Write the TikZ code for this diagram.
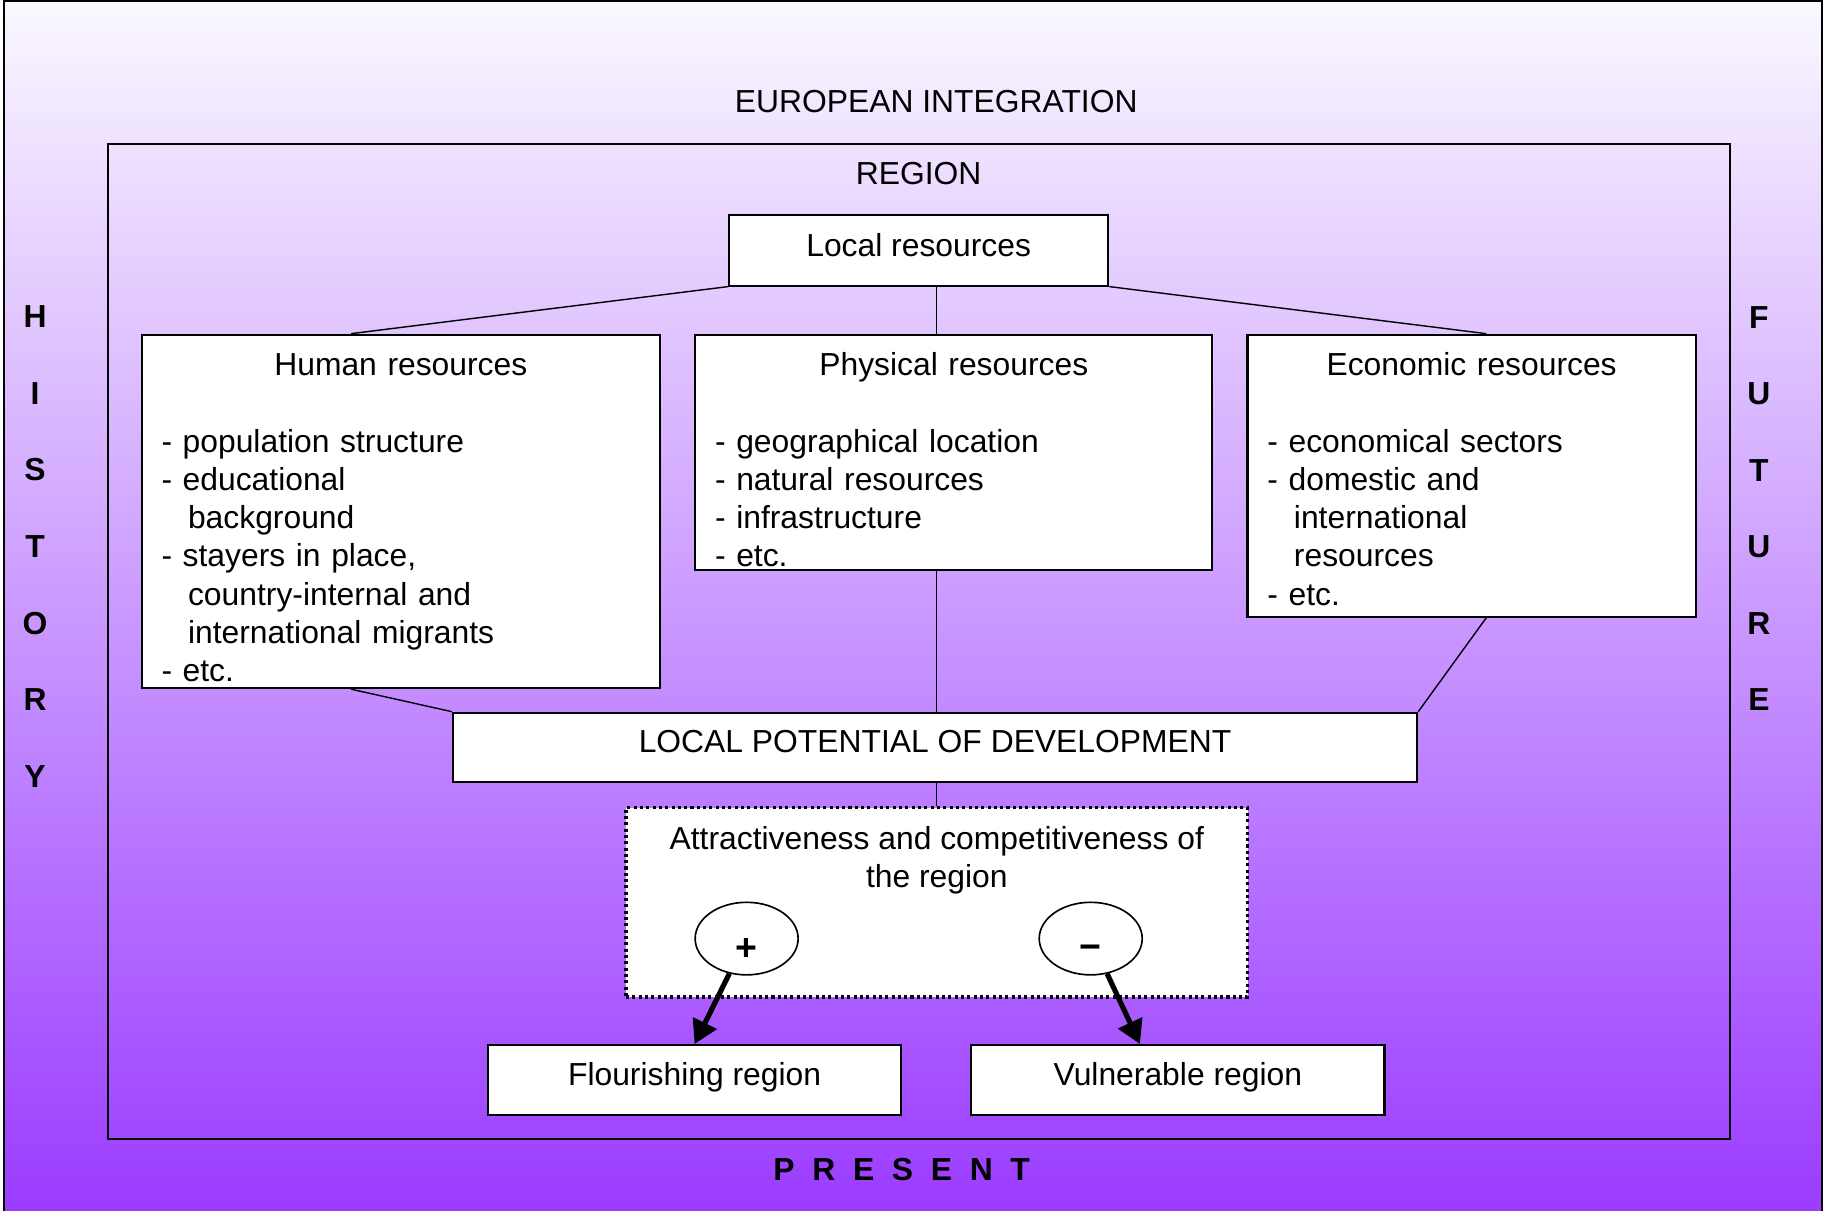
\documentclass[tikz,border=0pt]{standalone}
\usepackage{fontspec}
\setmainfont{Liberation Sans}
\usetikzlibrary{shapes.geometric,arrows.meta,positioning}

\definecolor{bgtop}{RGB}{250,248,255}
\definecolor{bgmid}{RGB}{204,172,253}
\definecolor{bgbottom}{RGB}{155,60,255}

\newcommand{\diagfont}{\fontsize{13.6}{16.35}\selectfont}

\tikzset{
  frame/.style={draw=black,line width=0.8pt},
  resbox/.style={draw=black,fill=white,line width=0.9pt,inner sep=0pt},
  onebox/.style={resbox,text height=9.8pt,text depth=4.9pt},
  restext/.style={anchor=north,align=left,inner xsep=0pt,inner ysep=6.3pt},
  link/.style={draw=black,line width=0.6pt},
  signbox/.style={ellipse,draw=black,fill=white,line width=0.7pt,minimum width=44pt,minimum height=31pt,inner sep=0pt},
  signmark/.style={font=\fontsize{16}{19}\selectfont\bfseries},
  fatarrow/.style={line width=2.2pt,-{Triangle[length=10pt,width=11pt]}},
  letters/.style={font=\diagfont\bfseries,align=center},
}

\begin{document}
\begin{tikzpicture}[x=0.5pt,y=-0.5pt,font=\diagfont]
\useasboundingbox (0,0) rectangle (1568,1034);

% background and frames
\shade[top color=bgtop,middle color=bgmid,bottom color=bgbottom] (3.5,1) rectangle (1557,1034);
\draw[frame] (3.5,1040) -- (3.5,1) -- (1557,1) -- (1557,1040);
\draw[frame] (92,123) rectangle (1478,973);

\node (europe) at (800,87) {EUROPEAN INTEGRATION};
\node (region) at (785,148) {REGION};

% columns of the connectors
\coordinate (hcol) at (300,0);
\coordinate (pcol) at (800,0);
\coordinate (ecol) at (1270,0);

\node[onebox,minimum width=162pt,minimum height=30pt] (loc) at (785,214) {Local resources};

\node[resbox,minimum width=221.5pt,minimum height=151pt] (hum) at (342.5,437) {};
\node[restext,text width=204.5pt] (humtext) at (hum.north) {\makebox[204.5pt]{\strut Human resources}\\[16.35pt]
- population structure\\
- educational\\
\hspace*{0.834em}background\\
- stayers in place,\\
\hspace*{0.834em}country-internal and\\
\hspace*{0.834em}international migrants\\
- etc.};

\node[resbox,minimum width=221pt,minimum height=100.5pt] (phy) at (815,386.5) {};
\node[restext,text width=204pt] (phytext) at (phy.north) {\makebox[204pt]{\strut Physical resources}\\[16.35pt]
- geographical location\\
- natural resources\\
- infrastructure\\
- etc.};

\node[resbox,minimum width=191.5pt,minimum height=120.5pt] (eco) at (1257.5,406.5) {};
\node[restext,text width=174.5pt] (ecotext) at (eco.north) {\makebox[174.5pt]{\strut Economic resources}\\[16.35pt]
- economical sectors\\
- domestic and\\
\hspace*{0.834em}international\\
\hspace*{0.834em}resources\\
- etc.};

\node[onebox,minimum width=412pt,minimum height=29.5pt] (lpd) at (799,638.5) {LOCAL POTENTIAL OF DEVELOPMENT};

\node[draw=black,fill=white,line width=1.4pt,dash pattern=on 1.3pt off 1.4pt,minimum width=265.5pt,minimum height=81pt,inner sep=0pt] (attr) at (800.5,771) {};
\node[anchor=north,align=center,inner ysep=6.8pt] (attrtext) at (attr.north) {\strut Attractiveness and competitiveness of\\the region};

\node[signbox] (plus) at (638,802) {};
\node[signmark] (plusmark) at ([yshift=-4.5pt]plus.center) {+};
\node[signbox] (minus) at (932,802) {};
\node[signmark] (minusmark) at ([yshift=-6pt]minus.center) {\char"2212};

\node[onebox,minimum width=176.5pt,minimum height=30pt] (flour) at (593.5,923) {Flourishing region};
\node[onebox,minimum width=176.5pt,minimum height=30pt] (vuln) at (1006.5,923) {Vulnerable region};

% connectors
\draw[link] (loc.south west) -- (hum.north -| hcol);
\draw[link] (loc.south -| pcol) -- (phy.north -| pcol);
\draw[link] (loc.south east) -- (eco.north -| ecol);
\draw[link] (hum.south -| hcol) -- (lpd.north west);
\draw[link] (phy.south -| pcol) -- (lpd.north -| pcol);
\draw[link] (eco.south -| ecol) -- (lpd.north east);
\draw[link] (lpd.south -| pcol) -- (attr.north -| pcol);

\draw[fatarrow] (plus) -- (flour.north);
\draw[fatarrow] (minus) -- ([xshift=72.5pt]vuln.north west);

% time axis
\node[letters] (history) at (30,467) {H\\[\baselineskip]I\\[\baselineskip]S\\[\baselineskip]T\\[\baselineskip]O\\[\baselineskip]R\\[\baselineskip]Y};
\node[letters] (future) at (1503,434.5) {F\\[\baselineskip]U\\[\baselineskip]T\\[\baselineskip]U\\[\baselineskip]R\\[\baselineskip]E};
\node[letters] (present) at (770.5,999) {P\ \ R\ \ E\ \ S\ \ E\ \ N\ \ T};

\end{tikzpicture}
\end{document}
